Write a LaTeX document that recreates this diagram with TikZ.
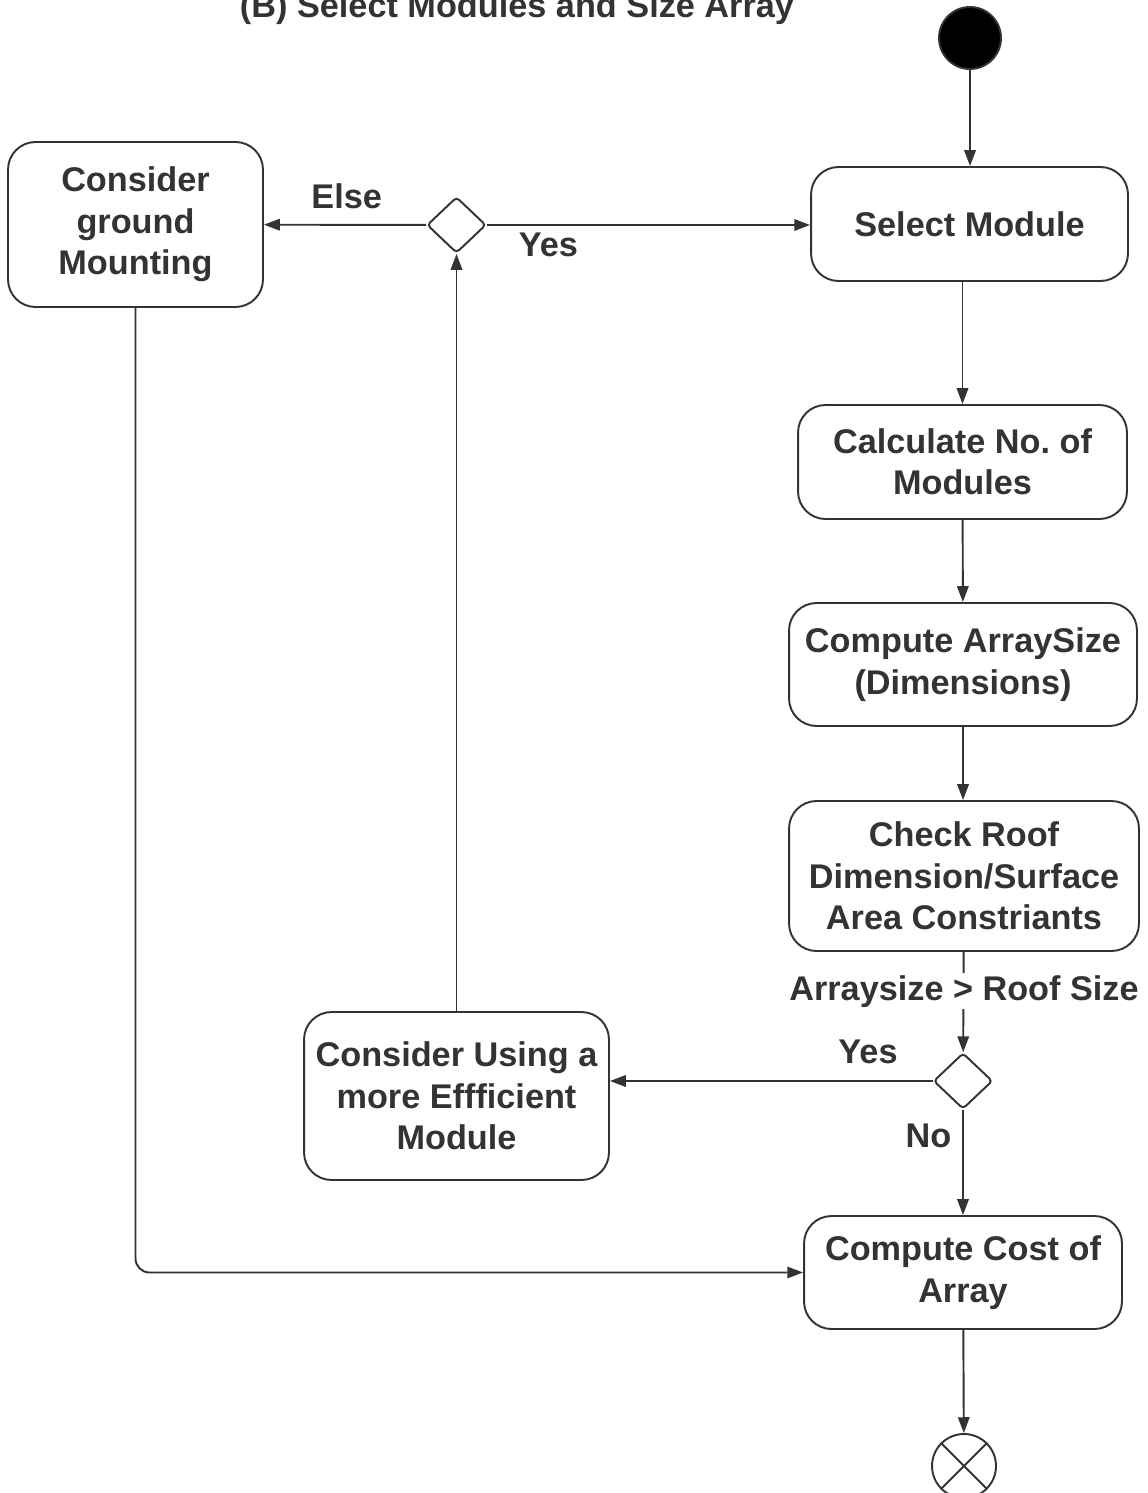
\documentclass[tikz,border=0pt]{standalone}
\usepackage{fontspec}
\setmainfont{Liberation Sans}
\usepackage{xcolor}
\definecolor{ink}{HTML}{333333}
\usetikzlibrary{shapes,arrows.meta,positioning}
\frenchspacing

\begin{document}
\begin{tikzpicture}[
    x=0.02cm, y=-0.02cm,
    line width=1.1pt, draw=ink, text=ink,
    >={Triangle[length=9pt,width=6.5pt]},
    txt/.style={font=\fontsize{19.5}{23.6}\selectfont\bfseries},
    act/.style={txt, draw=ink, rectangle, rounded corners=0.55cm, align=center, inner sep=0pt},
    choice/.style={diamond, draw=ink, rounded corners=2pt, minimum width=1.18cm, minimum height=1.12cm, inner sep=0pt},
    lbl/.style={txt},
]
\useasboundingbox (0,0) rectangle (1148,1493);

% title
\node[lbl, anchor=base] (title) at (517,18) {(B) Select Modules and Size Array};

% start / end
\node[circle, fill=black, draw=ink, minimum size=1.24cm, inner sep=0pt] (start) at (970,38) {};
\node[circle, draw=ink, minimum size=1.28cm, inner sep=0pt] (stop) at (964,1466) {};
\draw (stop.north west) -- (stop.south east);
\draw (stop.north east) -- (stop.south west);

% right column
\node[act, minimum width=6.34cm, minimum height=2.28cm] (sel) at (969.5,224) {Select Module};
\node[act, minimum width=6.58cm, minimum height=2.28cm] (calc) at (962.5,462) {Calculate No. of\\Modules};
\node[act, minimum width=6.96cm, minimum height=2.46cm] (size) at (963,664.5) {Compute ArraySize\\(Dimensions)};
\node[act, minimum width=7.00cm, minimum height=3.00cm] (roof) at (964,876) {Check Roof\\Dimension/Surface\\Area Constriants};
\node[choice] (fit) at (963,1081) {};
\node[act, minimum width=6.36cm, minimum height=2.26cm] (cost) at (963,1272.5) {Compute Cost of\\Array};

% left side
\node[choice] (alt) at (456.5,225) {};
\node[act, minimum width=5.10cm, minimum height=3.30cm] (ground) at (135.5,224.5) {Consider\\ground\\Mounting};
\node[act, minimum width=6.10cm, minimum height=3.36cm] (eff) at (456.5,1096) {Consider Using a\\more Effficient\\Module};

% main flow
\draw[->] (start) -- (start |- sel.north);
\draw[->] (sel.south -| calc) -- (calc.north);
\draw[->] (calc) -- (size);
\draw[->] (size) -- (size.south |- roof.north);
\draw[->] (roof) -- (fit);
\node[lbl, fill=white, anchor=base, inner sep=1pt] (cond) at (964,1000) {Arraysize > Roof Size};
\draw[->] (fit) -- node[lbl, left=0.1cm, pos=0.25] {No} (cost);
\draw[->] (cost) -- (stop);

% loop back
\draw[->] (fit) -- node[lbl, above=0.2cm, pos=0.2] {Yes} (fit -| eff.east);
\draw[->] (eff) -- (alt);
\draw[->] (alt) -- node[lbl, below=0.03cm, pos=0.19] {Yes} (alt -| sel.west);
\draw[->] (alt) -- node[lbl, above=0.18cm, pos=0.49] {Else} (ground);
\draw[->, rounded corners=8pt] (ground) |- (cost);

\end{tikzpicture}
\end{document}
